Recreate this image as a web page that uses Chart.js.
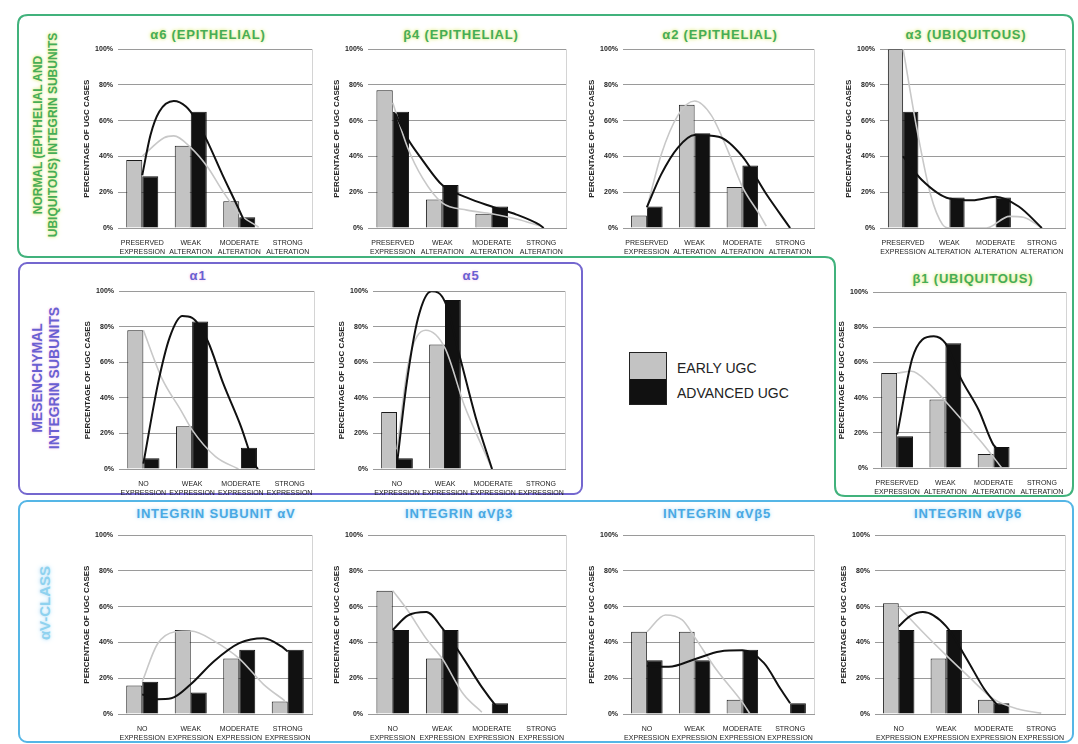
<!DOCTYPE html>
<html>
<head>
<meta charset="utf-8">
<script src="https://cdn.jsdelivr.net/npm/chart.js@4.4.0/dist/chart.umd.min.js"></script>
<style>
  body { margin: 0; width: 1078px; height: 744px; background: #fff; position: relative; overflow: hidden;
         font-family: "Liberation Sans", Arial, sans-serif; }
  canvas { position: absolute; }
  svg { position: absolute; left: 0; top: 0; }
  .ttl { position: absolute; font-weight: bold; font-size: 13px; letter-spacing: 0.8px; white-space: nowrap; transform: translate(-50%, -50%); }
  .green { color: #46ad55; text-shadow: 0 0 3px #e2ec8a, 0 0 5px #e8f0a8; }
  .purple { color: #6a5fd2; text-shadow: 0 0 3px #f0c8e8; }
  .blue { color: #49a9e4; text-shadow: 0 0 3px #b9e2f7, 0 0 6px #cfeafa; }
  .side { position: absolute; font-weight: bold; white-space: nowrap; text-align: center;
          transform: translate(-50%, -50%) rotate(-90deg); }
  .legend { position: absolute; left: 629px; top: 352px; width: 36px; height: 51px; border: 1px solid #222; }
  .legend div { height: 50%; }
  .ltxt { position: absolute; left: 677px; font-size: 14px; color: #222; transform: translateY(-50%); }
</style>
</head>
<body>
<svg width="1078" height="744">
  <path d="M28 15 H1063 Q1073 15 1073 25 V486 Q1073 496 1063 496 H845 Q835 496 835 486 V267 Q835 257 825 257 H28 Q18 257 18 247 V25 Q18 15 28 15 Z"
        fill="none" stroke="#41b27c" stroke-width="2"/>
  <rect x="19" y="263" width="563" height="231" rx="8" fill="none" stroke="#7467cf" stroke-width="2"/>
  <rect x="19" y="501" width="1054" height="241" rx="8" fill="none" stroke="#55b6e6" stroke-width="2"/>
</svg>

<div class="side green" style="left:46px; top:135px; font-size:12px; line-height:15px;">NORMAL (EPITHELIAL AND<br>UBIQUITOUS) INTEGRIN SUBUNITS</div>
<div class="side purple" style="left:46px; top:378px; font-size:14px; line-height:17px;">MESENCHYMAL<br>INTEGRIN SUBUNITS</div>
<div class="side blue" style="left:44px; top:603px; font-size:15px; color:#8fd2ef;">αV-CLASS</div>

<div class="legend"><div style="background:#c3c3c3"></div><div style="background:#111"></div></div>
<div class="ltxt" style="top:368px;">EARLY UGC</div>
<div class="ltxt" style="top:393px;">ADVANCED UGC</div>

<script>
// ---------- DATA ----------
const yTickLabels = ['0%', '20%', '40%', '60%', '80%', '100%'];
const alterationLabels = [['PRESERVED', 'EXPRESSION'], ['WEAK', 'ALTERATION'], ['MODERATE', 'ALTERATION'], ['STRONG', 'ALTERATION']];
const expressionLabels = [['NO', 'EXPRESSION'], ['WEAK', 'EXPRESSION'], ['MODERATE', 'EXPRESSION'], ['STRONG', 'EXPRESSION']];

// bars: % of UGC cases per category
const a6Early = [38, 46, 15, 0];
const a6Advanced = [29, 65, 6, 0];
const b4Early = [77, 16, 8, 0];
const b4Advanced = [65, 24, 12, 0];
const a2Early = [7, 69, 23, 0];
const a2Advanced = [12, 53, 35, 0];
const a3Early = [100, 0, 0, 0];
const a3Advanced = [65, 17, 17, 0];
const a1Early = [78, 24, 0, 0];
const a1Advanced = [6, 83, 12, 0];
const a5Early = [32, 70, 0, 0];
const a5Advanced = [6, 95, 0, 0];
const b1Early = [54, 39, 8, 0];
const b1Advanced = [18, 71, 12, 0];
const avEarly = [16, 47, 31, 7];
const avAdvanced = [18, 12, 36, 36];
const avb3Early = [69, 31, 0, 0];
const avb3Advanced = [47, 47, 6, 0];
const avb5Early = [46, 46, 8, 0];
const avb5Advanced = [30, 30, 36, 6];
const avb6Early = [62, 31, 8, 0];
const avb6Advanced = [47, 47, 6, 0];

// trend curves: [category position, %]
const a6EarlyCurve = [[0, 40], [0.45, 50.5], [0.65, 51.5], [1, 45], [1.35, 34], [1.65, 21], [2, 8], [2.4, 0.5]];
const a6AdvancedCurve = [[0, 29.5], [0.17, 52], [0.35, 65], [0.65, 71], [0.9, 68], [1.1, 61], [1.35, 48], [1.65, 30], [2, 10], [2.15, 1]];
const b4EarlyCurve = [[0, 70], [0.3, 45], [0.6, 28], [1, 14], [1.5, 10], [2, 8], [2.5, 5], [3, 1]];
const b4AdvancedCurve = [[0.05, 64], [0.3, 50], [0.6, 38], [1, 24], [1.5, 17], [2, 12], [2.5, 7.5], [2.95, 2], [3.05, 0]];
const a2EarlyCurve = [[0, 11], [0.3, 41], [0.65, 63], [1, 71], [1.35, 63], [1.7, 43], [2, 23], [2.35, 8], [2.5, 1]];
const a2AdvancedCurve = [[0, 11.6], [0.3, 30], [0.65, 45], [1, 52], [1.5, 51], [2, 40], [2.5, 19], [3, 0]];
const a3EarlyCurve = [[0, 100], [0.3, 55], [0.6, 18], [0.85, 2], [1, 0], [1.8, 0], [2.3, 6.5], [2.6, 6], [3, 0]];
const a3AdvancedCurve = [[0, 40], [0.4, 27], [1, 16.5], [1.5, 15.5], [2, 17.5], [2.5, 12], [3, 0]];
const a1EarlyCurve = [[0, 78], [0.38, 51], [0.77, 33], [1, 22], [1.48, 7], [1.95, 0]];
const a1AdvancedCurve = [[0, 3], [0.3, 48], [0.54, 74], [0.8, 86], [1, 85], [1.32, 72], [1.64, 48], [2, 24], [2.27, 3], [2.35, 0]];
const a5EarlyCurve = [[0, 11], [0.24, 60], [0.6, 78], [1, 68], [1.4, 36], [1.8, 11], [1.98, 0]];
const a5AdvancedCurve = [[0, 3], [0.2, 48], [0.44, 85], [0.72, 100], [1, 94], [1.32, 62], [1.64, 29], [1.98, 0]];
const b1EarlyCurve = [[0, 54], [0.3, 55], [0.66, 48], [1, 38], [1.42, 25], [1.83, 12], [2.17, 0]];
const b1AdvancedCurve = [[0, 19], [0.31, 62], [0.52, 73], [0.76, 75], [1, 71], [1.32, 51], [1.69, 33], [2, 13], [2.15, 10]];
const avEarlyCurve = [[0, 18], [0.31, 39], [0.68, 46], [1, 46.4], [1.5, 40.5], [2, 31], [2.5, 16.6], [2.94, 7.4]];
const avAdvancedCurve = [[0, 11], [0.31, 8.3], [0.6, 8.8], [1, 16.6], [1.48, 29.5], [2, 39.6], [2.5, 42.4], [2.87, 37.8], [3, 35]];
const avb3EarlyCurve = [[0, 69], [0.3, 58], [0.68, 42], [1, 31], [1.43, 11], [1.8, 1]];
const avb3AdvancedCurve = [[0, 47], [0.3, 55], [0.68, 57], [1, 48], [1.43, 31], [1.8, 15], [2.1, 4], [2.2, 1]];
const avb5EarlyCurve = [[0, 46], [0.39, 55.4], [0.74, 52.6], [1, 43], [1.45, 25], [2, 6.5], [2.16, 0]];
const avb5AdvancedCurve = [[0, 27], [0.46, 26.4], [1, 30.6], [1.53, 35], [2, 35.6], [2.45, 28.6], [2.8, 14], [3, 6]];
const avb6EarlyCurve = [[0, 60], [0.51, 45.7], [1, 32.8], [1.44, 21.7], [2, 8.3], [2.51, 2.8], [3, 0.5]];
const avb6AdvancedCurve = [[0, 49], [0.23, 54.6], [0.51, 57], [1, 49], [1.44, 30.4], [1.8, 14], [2.09, 4.6], [2.23, 1]];

// ---------- PANELS (plot area in page pixels) ----------
const panels = [
  { title: 'α6 (EPITHELIAL)', cls: 'green', tx: 208, ty: 34, box: [118, 47, 312, 228], labels: alterationLabels, early: a6Early, adv: a6Advanced, ec: a6EarlyCurve, ac: a6AdvancedCurve },
  { title: 'β4 (EPITHELIAL)', cls: 'green', tx: 461, ty: 34, box: [368, 47, 566, 228], labels: alterationLabels, early: b4Early, adv: b4Advanced, ec: b4EarlyCurve, ac: b4AdvancedCurve },
  { title: 'α2 (EPITHELIAL)', cls: 'green', tx: 720, ty: 34, box: [623, 47, 814, 228], labels: alterationLabels, early: a2Early, adv: a2Advanced, ec: a2EarlyCurve, ac: a2AdvancedCurve },
  { title: 'α3 (UBIQUITOUS)', cls: 'green', tx: 966, ty: 34, box: [880, 47, 1065, 228], labels: alterationLabels, early: a3Early, adv: a3Advanced, ec: a3EarlyCurve, ac: a3AdvancedCurve },
  { title: 'α1', cls: 'purple', tx: 198, ty: 275, box: [119, 289, 314, 469], labels: expressionLabels, early: a1Early, adv: a1Advanced, ec: a1EarlyCurve, ac: a1AdvancedCurve },
  { title: 'α5', cls: 'purple', tx: 471, ty: 275, box: [373, 289, 565, 469], labels: expressionLabels, early: a5Early, adv: a5Advanced, ec: a5EarlyCurve, ac: a5AdvancedCurve },
  { title: 'β1 (UBIQUITOUS)', cls: 'green', tx: 973, ty: 278, box: [873, 290, 1066, 468], labels: alterationLabels, early: b1Early, adv: b1Advanced, ec: b1EarlyCurve, ac: b1AdvancedCurve },
  { title: 'INTEGRIN SUBUNIT αV', cls: 'blue', tx: 216, ty: 513, box: [118, 533, 312, 714], labels: expressionLabels, early: avEarly, adv: avAdvanced, ec: avEarlyCurve, ac: avAdvancedCurve },
  { title: 'INTEGRIN αVβ3', cls: 'blue', tx: 459, ty: 513, box: [368, 533, 566, 714], labels: expressionLabels, early: avb3Early, adv: avb3Advanced, ec: avb3EarlyCurve, ac: avb3AdvancedCurve },
  { title: 'INTEGRIN αVβ5', cls: 'blue', tx: 717, ty: 513, box: [623, 533, 814, 714], labels: expressionLabels, early: avb5Early, adv: avb5Advanced, ec: avb5EarlyCurve, ac: avb5AdvancedCurve },
  { title: 'INTEGRIN αVβ6', cls: 'blue', tx: 968, ty: 513, box: [875, 533, 1065, 714], labels: expressionLabels, early: avb6Early, adv: avb6Advanced, ec: avb6EarlyCurve, ac: avb6AdvancedCurve }
];

// light frame line on the right of the plot area
const framePlugin = {
  id: 'frame',
  beforeDatasetsDraw(chart) {
    const a = chart.chartArea, c = chart.ctx;
    c.save();
    c.strokeStyle = '#d4d4d4';
    c.lineWidth = 1;
    c.beginPath();
    c.moveTo(a.right + 0.5, a.top);
    c.lineTo(a.right + 0.5, a.bottom);
    c.stroke();
    c.restore();
  }
};

const toPoints = arr => arr.map(p => ({ x: p[0], y: p[1] }));
const toBars = arr => arr.map((v, i) => ({ x: i, y: v }));

function makePanel(p) {
  const yw = 36, xh = 26, padT = 7, padR = 3;
  const [l, t, r, b] = p.box;
  const w = r - l + yw + padR, h = b - t + padT + xh;

  const ttl = document.createElement('div');
  ttl.className = 'ttl ' + p.cls;
  ttl.style.left = p.tx + 'px';
  ttl.style.top = p.ty + 'px';
  ttl.textContent = p.title;
  document.body.appendChild(ttl);

  const cv = document.createElement('canvas');
  cv.width = w; cv.height = h;
  cv.style.left = (l - yw) + 'px';
  cv.style.top = (t - padT) + 'px';
  cv.style.width = w + 'px';
  cv.style.height = h + 'px';
  document.body.appendChild(cv);

  new Chart(cv, {
    type: 'bar',
    data: {
      datasets: [
        { type: 'line', data: toPoints(p.ac), borderColor: '#111', borderWidth: 2,
          pointRadius: 0, cubicInterpolationMode: 'monotone', order: 0 },
        { type: 'line', data: toPoints(p.ec), borderColor: '#c8c8c8', borderWidth: 1.6,
          pointRadius: 0, cubicInterpolationMode: 'monotone', order: 1 },
        { label: 'EARLY UGC', data: toBars(p.early), backgroundColor: '#c3c3c3', borderColor: '#1a1a1a', borderWidth: 1, order: 2 },
        { label: 'ADVANCED UGC', data: toBars(p.adv), backgroundColor: '#111', borderColor: '#111', borderWidth: 1, order: 2 }
      ]
    },
    options: {
      responsive: false,
      animation: false,
      layout: { padding: { top: padT, right: padR, left: 0, bottom: 0 } },
      plugins: { legend: { display: false }, tooltip: { enabled: false } },
      datasets: { bar: { barPercentage: 1, categoryPercentage: 0.66 } },
      scales: {
        x: {
          type: 'linear', min: -0.5, max: 3.5, offset: false,
          grid: { display: false, offset: false },
          border: { color: '#9a9a9a' },
          afterBuildTicks: s => { s.ticks = [0, 1, 2, 3].map(v => ({ value: v })); },
          ticks: { maxRotation: 0, autoSkip: false, padding: 3, color: '#222',
                   callback: (v, i) => p.labels[i],
                   font: { family: '"Liberation Sans Narrow", "Liberation Sans", Arial', size: 7 } },
          afterFit: s => { s.height = xh; }
        },
        y: {
          min: 0, max: 100,
          ticks: { stepSize: 20, padding: 5, color: '#222', callback: v => yTickLabels[v / 20],
                   font: { family: '"Liberation Sans", Arial', size: 7, weight: 'bold' } },
          grid: { color: '#9a9a9a', drawTicks: false },
          border: { display: false },
          title: { display: true, text: 'PERCENTAGE OF UGC CASES', color: '#222', padding: 0,
                   font: { family: '"Liberation Sans", Arial', size: 8, weight: 'bold' } },
          afterFit: s => { s.width = yw; }
        }
      }
    },
    plugins: [framePlugin]
  });
}

panels.forEach(makePanel);
</script>
</body>
</html>
